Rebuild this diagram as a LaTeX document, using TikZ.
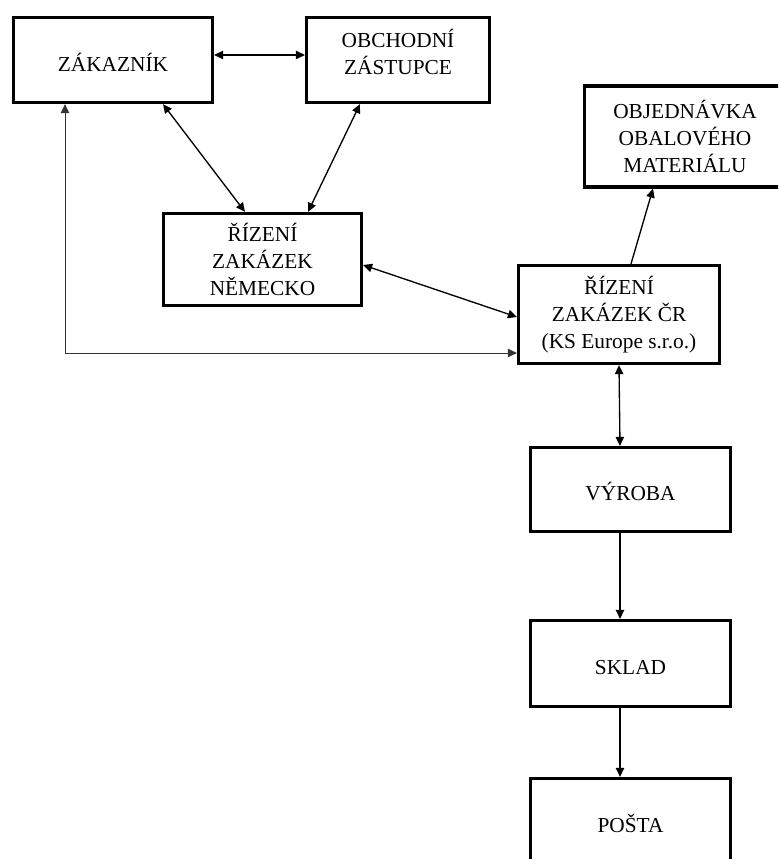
\documentclass[tikz,border=0pt]{standalone}
\usepackage{fontspec}
\setmainfont{Liberation Serif}
\usetikzlibrary{arrows.meta}
\begin{document}
\begin{tikzpicture}[x=0.75pt,y=-0.75pt,
  >={Triangle[length=6.75pt,width=6.25pt]},
  lbl/.style={font=\fontsize{16}{20.25}\selectfont, align=center, inner sep=0pt},
  box/.style={lbl, draw, line width=2.4pt, rectangle, minimum width=150pt},
  oneline/.style={text height=17pt, text depth=0pt},
  link/.style={line width=1pt, ->},
  bilink/.style={line width=1pt, <->},
  loop/.style={line width=0.75pt, draw=black!80, <->}
]
\useasboundingbox (0,0) rectangle (778,859);
\clip (0,0) rectangle (778,859);

% boxes
\node[box, oneline, minimum width=149.25pt, minimum height=63.75pt] (zak) at (113,60) {ZÁKAZNÍK};
\node[box, minimum width=137.25pt, minimum height=63.75pt] (obch) at (398,60) {};
\node[lbl] (obch-t) at (398,52) {OBCHODNÍ\\ZÁSTUPCE};
\node[box, minimum width=148.5pt, minimum height=69pt] (nem) at (262.5,259.5) {ŘÍZENÍ\\ZAKÁZEK\\NĚMECKO};
\node[box, minimum width=150.75pt, minimum height=73.5pt] (cr) at (619,314.5) {ŘÍZENÍ\\ZAKÁZEK ČR\\(KS Europe s.r.o.)};
\node[box, minimum width=158.25pt, minimum height=75.75pt] (obj) at (690,136.5) {};
\node[lbl] (obj-t) at (685,136) {OBJEDNÁVKA\\OBALOVÉHO\\MATERIÁLU};
\node[box, oneline, minimum width=150pt, minimum height=63pt] (vyr) at (630.5,489.5) {VÝROBA};
\node[box, oneline, minimum width=150pt, minimum height=64.5pt] (skl) at (630.5,663.5) {SKLAD};
\node[box, oneline, minimum width=150pt, minimum height=64.5pt] (pos) at (630.5,821.5) {POŠTA};

% connectors
\draw[bilink] (zak.east |- 0,55) -- (obch.west |- 0,55);
\draw[bilink] (zak.south -| 163,0) -- (nem.north -| 245,0);
\draw[bilink] (obch.south -| 360,0) -- (nem.north -| 308,0);
\draw[bilink] (nem.east |- 0,265) -- (cr.west |- 0,317);
\draw[loop] (zak.south -| 65,0) |- (cr.west |- 0,353);
\draw[link] (cr.north -| 631,0) -- (obj.south -| 653,0);
\draw[bilink] (cr.south -| 619,0) -- (vyr.north -| 620,0);
\draw[link] (vyr.south -| 620,0) -- (skl.north -| 620,0);
\draw[link] (skl.south -| 620,0) -- (pos.north -| 620,0);
\end{tikzpicture}
\end{document}
